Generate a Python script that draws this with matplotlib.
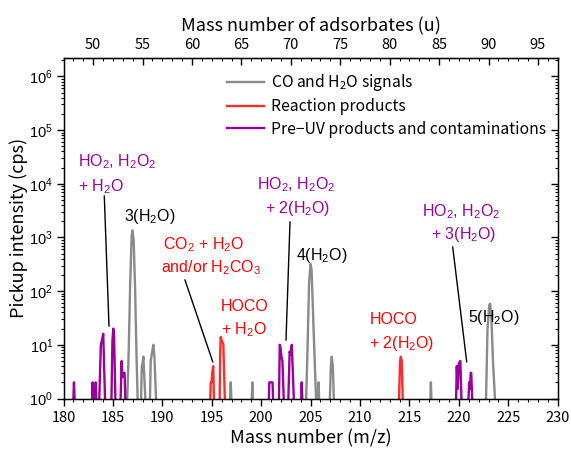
import numpy as np
import matplotlib
matplotlib.use("Agg")
import matplotlib.pyplot as plt
from matplotlib.ticker import MultipleLocator, LogLocator, NullFormatter, FixedLocator

plt.rcParams['font.family'] = ['Noto Sans CJK JP', 'DejaVu Sans']
plt.rcParams['mathtext.fontset'] = 'custom'
plt.rcParams['mathtext.rm'] = 'Liberation Sans'
plt.rcParams['mathtext.it'] = 'Liberation Sans:italic'
plt.rcParams['mathtext.default'] = 'regular'

# ---- data (m/z, counts per second); baseline = 1 ----
gray_x = [186.45, 186.6, 186.75, 186.9, 186.98, 187.1, 187.25, 187.4, 187.5, np.nan,
          187.85, 187.92, 188.0, 188.08, 188.2, 188.28, np.nan,
          188.75, 188.82, 188.95, 189.09, 189.2, 189.36, np.nan,
          196.86, 196.92, 196.98, np.nan,
          199.05, 199.1, 199.15, np.nan,
          204.55, 204.7, 204.85, 205.0, 205.1, 205.3, 205.55, np.nan,
          205.75, 205.8, 205.86, np.nan,
          206.95, 207.05, 207.14, 207.25, 207.35, np.nan,
          217.12, 217.17, 217.22, np.nan,
          222.75, 222.9, 223.08, 223.17, 223.3, 223.45, 223.65]
gray_y = [1, 8, 150, 1100, 1350, 900, 100, 5, 1, np.nan,
          1, 3.9, 4.5, 6, 2, 1, np.nan,
          1, 5, 7, 10, 6, 1, np.nan,
          1, 2, 1, np.nan,
          1, 2, 1, np.nan,
          1, 10, 150, 320, 250, 20, 1, np.nan,
          1, 2, 1, np.nan,
          1, 4, 6, 4, 1, np.nan,
          1, 2, 1, np.nan,
          1, 20, 55, 58, 30, 5, 1]

red_x = [194.85, 194.9, 194.98, 195.05, 195.15, 195.22, np.nan,
         195.8, 195.86, 195.91, 196.0, 196.1, 196.17, 196.32, np.nan,
         213.95, 214.05, 214.13, 214.22, 214.32]
red_y = [1, 2, 2, 3, 4, 1, np.nan,
         1, 8, 14, 12, 11, 10.5, 1, np.nan,
         1, 5, 6, 5, 1]

purple_x = [181.0, 181.06, 181.12, np.nan,
            182.9, 182.95, 183.0, np.nan, 183.2, 183.26, 183.32, np.nan,
            183.62, 183.78, 183.88, 184.02, 184.2, np.nan,
            184.85, 184.95, 185.04, 185.12, 185.25, np.nan,
            185.78, 185.88, 185.95, 186.05, 186.18, 186.25, np.nan,
            200.78, 200.82, 201.15, 201.2, np.nan,
            201.8, 201.88, 201.95, 202.05, 202.15, 202.28, np.nan,
            202.75, 202.88, 202.98, 203.1, 203.3, np.nan,
            204.05, 204.1, 204.16, np.nan,
            219.72, 219.79, 219.88, 220.0, 220.15, 220.26, np.nan,
            220.98, 221.04, 221.12, 221.2, 221.25, 221.35]
purple_y = [1, 2, 1, np.nan,
            1, 2, 1, np.nan, 1, 2, 1, np.nan,
            1, 10, 12, 16, 1, np.nan,
            1, 12, 20, 14, 1, np.nan,
            1, 5, 2.5, 3, 3, 1, np.nan,
            1, 2, 2, 1, np.nan,
            1, 10, 9, 6, 5, 1, np.nan,
            1, 7.5, 6.5, 10, 1, np.nan,
            1, 2, 1, np.nan,
            1, 4, 1.5, 4.5, 5, 1, np.nan,
            1, 2, 1.5, 3, 3, 1]

series_labels = ['CO and H$_2$O signals', 'Reaction products', 'Pre\u2212UV products and contaminations']
ytick_vals = [1, 10, 100, 1e3, 1e4, 1e5, 1e6]
ytick_labels = ['10$^{%d}$' % i for i in range(7)]
GRAY, RED, PURPLE = '#8a8a8a', '#ff2a2a', '#9a009e'

xlim = (180, 230)
ylim = (1, 2.2e6)
top_offset = 133  # Cs+ mass

fig = plt.figure(figsize=(5.71, 4.51), dpi=100)
ax = fig.add_axes([63.5/571, 1-398.5/451, (557.7-63.5)/571, (398.5-58)/451])
ax.set_yscale('log')
ax.set_xlim(*xlim)
ax.set_ylim(*ylim)

ax.plot(gray_x, gray_y, color=GRAY, lw=1.7, label=series_labels[0])
ax.plot(red_x, red_y, color=RED, lw=1.7, label=series_labels[1])
ax.plot(purple_x, purple_y, color=PURPLE, lw=1.7, label=series_labels[2])

# ticks
ax.xaxis.set_major_locator(MultipleLocator(5))
ax.xaxis.set_minor_locator(MultipleLocator(1))
ax.set_yticks(ytick_vals)
ax.set_yticklabels(ytick_labels, fontsize=10.5, fontfamily='Liberation Sans')
ax.yaxis.set_minor_locator(LogLocator(base=10, subs=np.arange(2, 10), numticks=20))
ax.yaxis.set_minor_formatter(NullFormatter())
ax.tick_params(axis='both', which='major', direction='out', length=5, width=1)
ax.tick_params(axis='x', which='major', labelsize=10.5, pad=4)
ax.tick_params(axis='y', which='major', pad=2.5)
ax.tick_params(axis='both', which='minor', direction='out', length=2.5, width=0.8)

# right mirror ticks (inward)
axr = ax.twinx()
axr.set_yscale('log')
axr.set_ylim(*ylim)
axr.set_yticks(ytick_vals)
axr.yaxis.set_minor_locator(LogLocator(base=10, subs=np.arange(2, 10), numticks=20))
axr.tick_params(axis='y', which='major', direction='in', length=5, width=1, labelright=False)
axr.tick_params(axis='y', which='minor', direction='in', length=2.5, width=0.8, labelright=False)
axr.yaxis.set_minor_formatter(NullFormatter())

# top axis: mass of adsorbates
sec = ax.secondary_xaxis('top', functions=(lambda x: x - top_offset, lambda x: x + top_offset))
sec.xaxis.set_major_locator(FixedLocator(np.arange(50, 100, 5)))
sec.xaxis.set_minor_locator(MultipleLocator(1))
sec.tick_params(which='major', direction='in', length=5, width=1, labelsize=10.5, pad=4)
sec.tick_params(which='minor', direction='in', length=2.5, width=0.8)
sec.set_xlabel('Mass number of adsorbates (u)', fontsize=13, labelpad=5)

ax.set_xlabel('Mass number (m/z)', fontsize=13, labelpad=3)
ax.set_ylabel('Pickup intensity (cps)', fontsize=13, labelpad=1)

for sp in ax.spines.values():
    sp.set_linewidth(1.0)
    sp.set_zorder(5)

leg = ax.legend(loc='upper left', bbox_to_anchor=(0.305, 0.995), frameon=False,
                fontsize=11.3, handlelength=2.4, handletextpad=0.4, labelspacing=0.33,
                borderpad=0.3)

# helper: reference pixel -> data coords (for text/leader placement only)
def P(px, py):
    x = xlim[0] + (px - 63.5) / (557.7 - 63.5) * (xlim[1] - xlim[0])
    y = 10 ** ((398.5 - py) / 53.7)
    return x, y

tf = dict(fontsize=11.5, fontfamily='Liberation Sans')

def txt(px, py, s, color, ha='left'):
    x, y = P(px, py)
    ax.text(x, y, s, color=color, ha=ha, va='baseline', **tf)

txt(78, 166, 'HO$_2$, H$_2$O$_2$', PURPLE)
txt(78, 191, '+ H$_2$O', PURPLE)
txt(124, 221, '3(H$_2$O)', 'black')
txt(163, 249, 'CO$_2$ + H$_2$O', 'red')
txt(161, 272, 'and/or H$_2$CO$_3$', 'red')
txt(221, 311, 'HOCO', 'red')
txt(221, 334, '+ H$_2$O', 'red')
txt(296, 189, 'HO$_2$, H$_2$O$_2$', PURPLE, ha='center')
txt(298, 213, '+ 2(H$_2$O)', PURPLE, ha='center')
txt(296, 260, '4(H$_2$O)', 'black')
txt(370, 324, 'HOCO', 'red')
txt(369, 348, '+ 2(H$_2$O)', 'red')
txt(461, 216, 'HO$_2$, H$_2$O$_2$', PURPLE, ha='center')
txt(464, 239, '+ 3(H$_2$O)', PURPLE, ha='center')
txt(468, 322, '5(H$_2$O)', 'black')

def lead(p0, p1):
    x0, y0 = P(*p0)
    x1, y1 = P(*p1)
    ax.plot([x0, x1], [y0, y1], color='black', lw=1.0)

lead((104.3, 196), (109, 326))
lead((185, 280), (212.7, 361.7))
lead((290, 222), (286, 340))
lead((452.7, 247), (466.7, 361.7))

fig.savefig('out.png', dpi=100)
